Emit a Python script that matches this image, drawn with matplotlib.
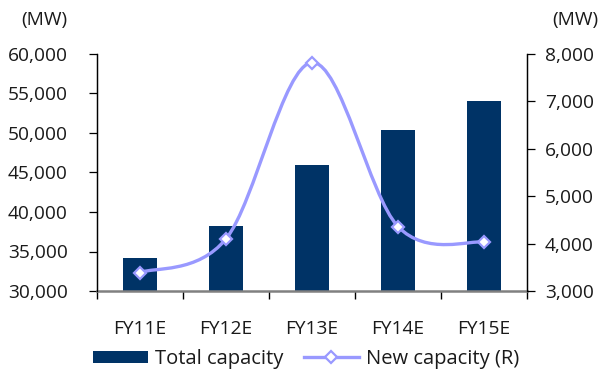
import matplotlib
matplotlib.use("Agg")
import matplotlib.pyplot as plt
from matplotlib.path import Path
from matplotlib.patches import PathPatch, Patch
from matplotlib.lines import Line2D
from matplotlib.ticker import FuncFormatter, MultipleLocator
import numpy as np

plt.rcParams['font.family'] = ['Open Sans', 'DejaVu Sans']

categories = ["FY11E", "FY12E", "FY13E", "FY14E", "FY15E"]
total_capacity = [34200, 38200, 45950, 50400, 54050]
new_capacity = [3390, 4100, 7820, 4360, 4030]

bar_color = "#003366"
line_color = "#9999FF"
text_color = "#1a1a1a"
fs = 13.8

fig = plt.figure(figsize=(6.09, 3.72), dpi=100)
ax = fig.add_axes([97 / 609, 1 - 291 / 372, 430 / 609, 237 / 372])
ax2 = ax.twinx()

x = np.arange(len(categories))
ax.bar(x, total_capacity, width=0.39, color=bar_color, zorder=2)
ax.set_xlim(-0.5, len(categories) - 0.5)
ax.set_ylim(30000, 60000)
ax.yaxis.set_major_locator(MultipleLocator(5000))
ax2.set_ylim(3000, 8000)
ax2.yaxis.set_major_locator(MultipleLocator(1000))

fmt = FuncFormatter(lambda v, p: f"{int(v):,}")
ax.yaxis.set_major_formatter(fmt)
ax2.yaxis.set_major_formatter(fmt)

# smoothed line: cubic Bezier segments with Catmull-Rom tangents
pts = np.column_stack([x, new_capacity]).astype(float)
n = len(pts)
verts = [pts[0]]
codes = [Path.MOVETO]
for i in range(n - 1):
    p0 = pts[i - 1] if i > 0 else pts[i]
    p1 = pts[i]
    p2 = pts[i + 1]
    p3 = pts[i + 2] if i + 2 < n else pts[i + 1]
    c1 = p1 + (p2 - p0) / 6.0
    c2 = p2 - (p3 - p1) / 6.0
    verts += [c1, c2, p2]
    codes += [Path.CURVE4] * 3
curve = PathPatch(Path(verts, codes), facecolor="none", edgecolor=line_color,
                  lw=2.4, zorder=3, capstyle="round", joinstyle="round")
ax2.add_patch(curve)
ax2.plot(x, new_capacity, linestyle="none", marker="D", markersize=6.5,
         markerfacecolor="white", markeredgecolor=line_color,
         markeredgewidth=1.6, zorder=4)

# axes styling
for a in (ax, ax2):
    a.spines['top'].set_visible(False)
    a.spines['left'].set_color("black")
    a.spines['right'].set_color("black")
    a.spines['left'].set_linewidth(0.9)
    a.spines['right'].set_linewidth(0.9)
    a.spines['bottom'].set_color("#808080")
    a.spines['bottom'].set_linewidth(1.8)
ax2.spines['bottom'].set_visible(False)

ax.set_xticks(np.arange(-0.5, len(categories), 1.0))
ax.set_xticklabels([])
ax.set_xticks(x, minor=True)
ax.set_xticklabels(categories, minor=True)
ax.tick_params(axis='x', which='major', length=6, width=1, color="black",
               direction='out')
ax.tick_params(axis='x', which='minor', length=0, pad=21, labelsize=fs,
               labelcolor=text_color)
ax.tick_params(axis='y', length=6, width=0.9, direction='out', pad=15,
               labelsize=fs, labelcolor=text_color)
ax2.tick_params(axis='y', length=6, width=0.9, direction='out', pad=7,
                labelsize=fs, labelcolor=text_color)

fig.text(44 / 609, 1 - 20 / 372, "(MW)", ha="center", va="center",
         fontsize=fs, color=text_color)
fig.text(575 / 609, 1 - 20 / 372, "(MW)", ha="center", va="center",
         fontsize=fs, color=text_color)

handles = [Patch(facecolor=bar_color, edgecolor="none"),
           Line2D([0], [0], color=line_color, lw=2.4, marker="D",
                  markersize=6.5, markerfacecolor="white",
                  markeredgecolor=line_color, markeredgewidth=1.6)]
fig.legend(handles, ["Total capacity", "New capacity (R)"], ncol=2,
           loc="center", bbox_to_anchor=(306 / 609, 1 - 359 / 372),
           frameon=False, fontsize=14.5, handlelength=2.75, handleheight=0.55,
           handletextpad=0.35, columnspacing=1.0, borderpad=0,
           labelcolor=text_color)

fig.savefig("out.png", dpi=100)
